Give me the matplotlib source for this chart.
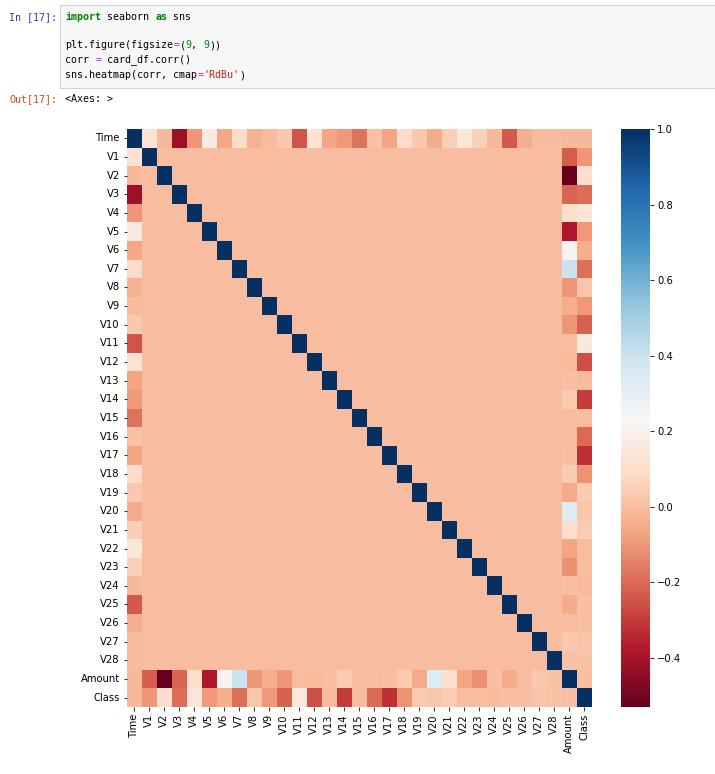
import numpy as np
import pandas as pd
import matplotlib
matplotlib.use("Agg")
import matplotlib.pyplot as plt
import seaborn as sns
from matplotlib.patches import Rectangle

labels = ["Time"] + [f"V{i}" for i in range(1, 29)] + ["Amount", "Class"]

# correlations of Time with V1..V28
time_corr = [0.117, -0.011, -0.420, -0.105, 0.173, -0.063, 0.085, -0.037, -0.009, 0.031,
             -0.248, 0.124, -0.066, -0.099, -0.183, 0.012, -0.073, 0.090, 0.029, -0.051,
             0.045, 0.144, 0.051, -0.016, -0.233, -0.041, -0.005, -0.009]
# correlations of Amount with V1..V28
amount_corr = [-0.228, -0.531, -0.211, 0.099, -0.386, 0.216, 0.397, -0.103, -0.044, -0.102,
               0.000, -0.010, 0.005, 0.034, -0.003, -0.004, 0.007, 0.036, -0.056, 0.339,
               0.106, -0.065, -0.113, 0.005, -0.048, -0.003, 0.029, 0.010]
# correlations of Class with V1..V28
class_corr = [-0.101, 0.091, -0.193, 0.133, -0.095, -0.044, -0.187, 0.020, -0.098, -0.217,
              0.155, -0.261, -0.005, -0.303, -0.004, -0.197, -0.326, -0.112, 0.035, 0.020,
              0.040, 0.001, -0.003, -0.007, 0.003, 0.004, 0.018, 0.010]
time_amount = -0.011
time_class = -0.012
amount_class = 0.006

n = len(labels)
m = np.eye(n)
iT, iA, iC = 0, n - 2, n - 1
for k in range(28):
    j = k + 1
    m[iT, j] = m[j, iT] = time_corr[k]
    m[iA, j] = m[j, iA] = amount_corr[k]
    m[iC, j] = m[j, iC] = class_corr[k]
m[iT, iA] = m[iA, iT] = time_amount
m[iT, iC] = m[iC, iT] = time_class
m[iA, iC] = m[iC, iA] = amount_class
corr = pd.DataFrame(m, index=labels, columns=labels)

W, H = 715, 774
fig = plt.figure(figsize=(W / 72, H / 72), dpi=72)

def fx(px):
    return px / W

def fy(py):
    return 1 - py / H

# notebook chrome
mono = "DejaVu Sans Mono"
cw = 6.02
fig.patches.append(Rectangle((fx(60), fy(88)), fx(715) - fx(60), fy(5) - fy(88),
                             transform=fig.transFigure, facecolor="#f7f7f7",
                             edgecolor="#cfcfcf", linewidth=1, zorder=0))
fig.text(fx(9), fy(17), "In [17]:", color="#303F9F", family=mono, fontsize=10, va="center")
fig.text(fx(9), fy(99), "Out[17]:", color="#D84315", family=mono, fontsize=10, va="center")
fig.text(fx(65), fy(99), "<Axes: >", color="#000000", family=mono, fontsize=10, va="center")

code_lines = [
    (17, [("import", "#008000", "bold"), (" seaborn ", "#000000", "normal"), ("as", "#008000", "bold"),
          (" sns", "#000000", "normal")]),
    (45, [("plt.figure(figsize", "#000000", "normal"), ("=", "#AA22FF", "normal"), ("(", "#000000", "normal"),
          ("9", "#008800", "normal"), (", ", "#000000", "normal"), ("9", "#008800", "normal"),
          ("))", "#000000", "normal")]),
    (60, [("corr ", "#000000", "normal"), ("=", "#AA22FF", "normal"), (" card_df.corr()", "#000000", "normal")]),
    (75, [("sns.heatmap(corr, cmap", "#000000", "normal"), ("=", "#AA22FF", "normal"),
          ("'RdBu'", "#BA2121", "normal"), (")", "#000000", "normal")]),
]
for y, segs in code_lines:
    x = 65
    for s, c, w in segs:
        fig.text(fx(x), fy(y), s, color=c, family=mono, fontsize=10, fontweight=w, va="center")
        x += cw * len(s)

ax = fig.add_axes([fx(126.7), fy(707), (591.7 - 126.7) / W, (707 - 129) / H])
cax = fig.add_axes([fx(620.7), fy(707), (650 - 620.7) / W, (707 - 129) / H])
sns.heatmap(corr, cmap="RdBu", ax=ax, cbar_ax=cax, xticklabels=labels, yticklabels=labels)
ax.tick_params(labelsize=10)
cax.tick_params(labelsize=10)

fig.savefig("out.png", dpi=72)
